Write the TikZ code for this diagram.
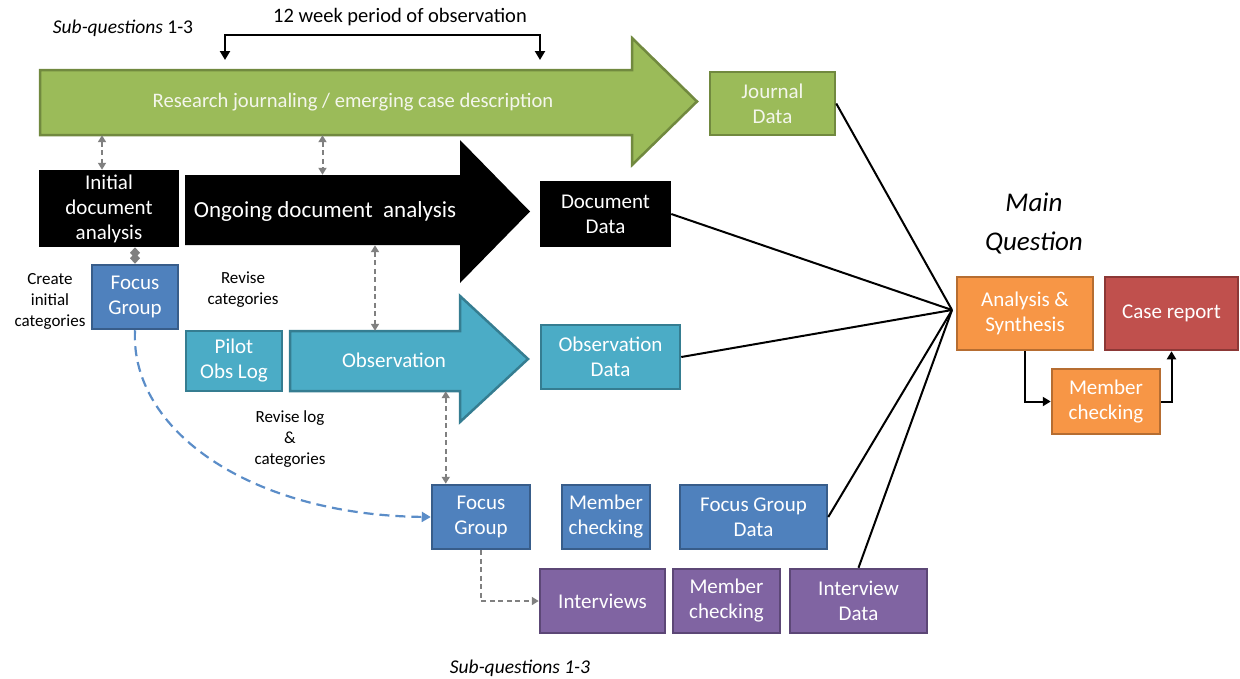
\documentclass[tikz,border=0pt]{standalone}
\usepackage{fontspec}
\setmainfont{Carlito}
\usetikzlibrary{arrows.meta,calc}

\definecolor{grn}{HTML}{9BBB59}   \definecolor{grnd}{HTML}{71893F}
\definecolor{tealc}{HTML}{4BACC6} \definecolor{teald}{HTML}{357D91}
\definecolor{blu}{HTML}{4F81BD}   \definecolor{blud}{HTML}{385D8A}
\definecolor{pur}{HTML}{8064A2}   \definecolor{purd}{HTML}{5C4776}
\definecolor{org}{HTML}{F79646}   \definecolor{orgd}{HTML}{B66D31}
\definecolor{redc}{HTML}{C0504D}  \definecolor{redd}{HTML}{8C3836}
\definecolor{grey}{HTML}{808080}  \definecolor{paleblue}{HTML}{5B8DC8}
\definecolor{lighttxt}{HTML}{F4F6EC}

\tikzset{
  box/.style={draw, line width=2.5pt, text=white, align=center, inner sep=0pt,
    font=\fontsize{21}{25}\selectfont},
  gbox/.style={box, fill=grn, draw=grnd, text=lighttxt},
  kbox/.style={box, fill=black, draw=black},
  tbox/.style={box, fill=tealc, draw=teald},
  bbox/.style={box, fill=blu, draw=blud},
  pbox/.style={box, fill=pur, draw=purd},
  obox/.style={box, fill=org, draw=orgd},
  rbox/.style={box, fill=redc, draw=redd},
  body/.style={inner sep=0pt},
  gtip/.tip={Triangle[width=8pt,length=7pt]},
  gdash/.style={draw=grey, line width=2pt, dash pattern=on 5pt off 3.5pt, {gtip}-{gtip}},
  feed/.style={draw=black, line width=2pt},
  note/.style={align=center, font=\fontsize{17}{21}\selectfont},
}

\begin{document}
\begin{tikzpicture}[x=1pt,y=-1pt]
\useasboundingbox (0,0) rectangle (1240,678);

% ---- big process arrows ----
\draw[fill=grn, draw=grnd, line width=2.5pt]
  (40,70) -- (632,70) -- (632,38) -- (697,101.5) -- (632,165) -- (632,135) -- (40,135) -- cycle;
\node[body, minimum width=592, minimum height=65] (jbody) at (336,102.5) {};
\node[text=lighttxt, font=\fontsize{20.6}{25}\selectfont] (jtext) at (353,102)
  {Research journaling / emerging case description};

\fill[black] (185,175) -- (460,175) -- (460,140) -- (530,211.5) -- (460,283) -- (460,245) -- (185,245) -- cycle;
\node[body, minimum width=275, minimum height=70] (dbody) at (322.5,210) {};
\node[text=white, font=\fontsize{23}{25}\selectfont] (dtext) at (325,211) {Ongoing document~ analysis};

\draw[fill=tealc, draw=teald, line width=2.5pt]
  (290,331) -- (460,331) -- (460,296) -- (528,359) -- (460,422) -- (460,391) -- (290,391) -- cycle;
\node[body, minimum width=170, minimum height=60] (obody) at (375,361) {};
\node[text=white, font=\fontsize{21}{25}\selectfont] (otext) at (394,360) {Observation};

% ---- boxes ----
\node[gbox, minimum width=125, minimum height=63] (jd) at (772.5,103.5) {Journal\\Data};
\node[kbox, minimum width=138, minimum height=75] (init) at (109,208.5) {Initial\\document\\analysis};
\node[kbox, minimum width=129, minimum height=64] (dd) at (605.5,214) {Document\\Data};
\node[bbox, minimum width=86, minimum height=64] (fg1) at (135,297) {Focus\\Group};
\node[tbox, minimum width=96, minimum height=60] (pilot) at (234,361) {Pilot\\Obs Log};
\node[tbox, minimum width=139, minimum height=64] (od) at (610.5,357) {Observation\\Data};
\node[bbox, minimum width=98, minimum height=64] (fg2) at (481,517) {Focus\\Group};
\node[bbox, minimum width=88, minimum height=64] (mc1) at (606,517) {Member\\checking};
\node[bbox, minimum width=147, minimum height=64] (fgd) at (753.5,517) {Focus Group\\Data};
\node[pbox, minimum width=125, minimum height=64] (intv) at (602.5,601) {Interviews};
\node[pbox, minimum width=107, minimum height=64] (mc2) at (726.5,601) {Member\\checking};
\node[pbox, minimum width=137, minimum height=64] (idata) at (858.5,601) {Interview\\Data};
\node[obox, minimum width=136, minimum height=73] (ana) at (1025,313.5) {Analysis \&\\Synthesis};
\node[rbox, minimum width=133, minimum height=73] (case) at (1171.5,313.5) {Case report};
\node[obox, minimum width=108, minimum height=65] (mc3) at (1106,401.5) {Member\\checking};

% ---- texts ----
\node[font=\fontsize{20.5}{21}\selectfont] (period) at (400,17) {12 week period of observation};
\node[font=\fontsize{19.5}{21}\selectfont] (subq1) at (123,28) {\textit{Sub-questions} 1-3};
\node[font=\fontsize{19.5}{21}\selectfont\itshape] (subq2) at (520,668) {Sub-questions 1-3};
\node[font=\fontsize{27}{39}\selectfont\itshape, align=center] (mainq) at (1034,223) {Main\\Question};
\node[note] (create) at (50,301) {Create\\initial\\categories};
\node[note] (revise) at (243,290) {Revise\\categories};
\node[note] (revlog) at (290,439) {Revise log\\\&\\categories};

% ---- 12 week bracket ----
\coordinate (bl) at (225,60);
\coordinate (br) at (540,60);
\draw[line width=2.5pt, {Triangle[width=10pt,length=9pt]}-{Triangle[width=10pt,length=9pt]}]
  (bl) -- (225,35) -- (540,35) -- (br);

% ---- links between the strands ----
\coordinate (ia) at ($(init.north)+(-7,0)$);
\draw[gdash] (ia |- jbody.south) -- (ia);
\draw[gdash] (jbody.south -| dbody.north) -- (dbody.north);
\draw[gdash] (dbody.south -| obody.north) -- (obody.north);
\coordinate (oa) at ($(fg2.north west)+(15,0)$);
\draw[gdash] (oa |- obody.south) -- (oa);
\draw[draw=grey, line width=2.5pt, {Diamond[width=10pt,length=11pt]}-{Diamond[width=10pt,length=11pt]}]
  (init.south -| fg1.north) -- (fg1.north);
\draw[draw=grey, line width=2pt, dash pattern=on 5pt off 3.5pt, -{gtip}]
  (fg2.south) |- (intv.west);
\draw[draw=paleblue, line width=2.2pt, dash pattern=on 10pt off 6pt, -{Triangle[width=10pt,length=9pt]}]
  (fg1.south) .. controls (130,430) and (250,515) .. (fg2.west);

% ---- data feeding the analysis ----
\coordinate (hub) at (952,310);
\draw[feed] (jd.east) -- (hub);
\draw[feed] (dd.east) -- (hub);
\draw[feed] (od.east) -- (hub);
\draw[feed] (fgd.east) -- (hub);
\draw[feed] (idata.north) -- (hub);

% ---- member checking loop ----
\draw[line width=2pt, -{Triangle[width=9pt,length=8pt]}] (ana.south) |- (mc3.west);
\draw[line width=2pt, -{Triangle[width=9pt,length=8pt]}] (mc3.east) -| (case.south);
\end{tikzpicture}
\end{document}
